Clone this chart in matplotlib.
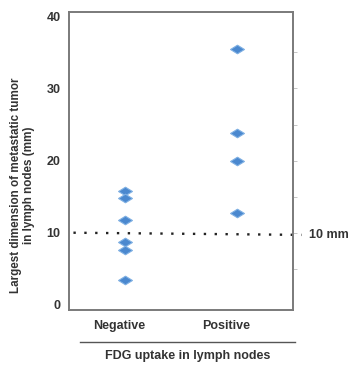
import matplotlib
matplotlib.use("Agg")
import matplotlib.pyplot as plt
from matplotlib.path import Path

plt.rcParams["font.family"] = ["Liberation Sans", "DejaVu Sans"]

# ── Data ──
groups = ["Negative", "Positive"]
negative_mm = [15.8, 14.8, 11.7, 8.7, 7.6, 3.5]
positive_mm = [35.5, 23.8, 19.9, 12.8]
cutoff_mm = 10
y_ticks = [0, 10, 20, 30, 40]
right_ticks = [5, 10, 15, 20, 25, 30, 35]

BLUE = "#4a88cf"
EDGE = "#7fb0e3"
TEXT = "#333333"
SPINE = "#7a7a7a"

# wide diamond marker
diamond = Path([(-1, 0), (0, 0.62), (1, 0), (0, -0.62), (-1, 0)],
               [Path.MOVETO, Path.LINETO, Path.LINETO, Path.LINETO, Path.CLOSEPOLY])

fig = plt.figure(figsize=(3.5, 3.65), dpi=100)
fig.patch.set_facecolor("white")
ax = fig.add_axes([0.197, 0.151, 0.64, 0.816])

for i, vals in enumerate([negative_mm, positive_mm]):
    ax.scatter([i] * len(vals), vals, marker=diamond, s=100, c=BLUE,
               edgecolors=EDGE, linewidths=0.8, zorder=3)

ax.set_xlim(-0.5, 1.5)
ax.set_ylim(-0.7, 40.6)
ax.set_xticks([-0.05, 0.9])
ax.set_xticklabels(groups, fontsize=9, fontweight="bold", color=TEXT)
ax.set_yticks(y_ticks)
ax.set_yticklabels([str(t) for t in y_ticks], fontsize=9, fontweight="bold", color=TEXT)
ax.tick_params(axis="both", length=0, pad=6)
ax.tick_params(axis="x", pad=7)

# right-side ticks without labels
ax2 = ax.twinx()
ax2.set_ylim(ax.get_ylim())
ax2.set_yticks(right_ticks)
ax2.set_yticklabels([])
ax2.tick_params(axis="y", length=3, color="#bbbbbb", width=0.6)

for a in (ax, ax2):
    for sp in a.spines.values():
        sp.set_color(SPINE)
        sp.set_linewidth(1.2)

# cutoff dotted line, extending past the axes
ax.plot([-0.46, 1.58], [cutoff_mm, cutoff_mm - 0.3], linestyle=(0, (1, 3.6)),
        color="#222222", linewidth=1.7, clip_on=False, zorder=2)
ax.text(1.64, cutoff_mm - 0.3, "10 mm", fontsize=9, fontweight="bold",
        color=TEXT, va="center", ha="left", clip_on=False)

ax.set_ylabel("Largest dimension of metastatic tumor\nin lymph nodes (mm)",
              fontsize=8.4, fontweight="bold", color=TEXT, linespacing=1.15)
ax.yaxis.set_label_coords(-0.15, 0.42)

# group bracket line and axis title below
fig.add_artist(plt.Line2D([80 / 350, 295 / 350], [1 - 342 / 365, 1 - 342 / 365],
                          color="#555555", linewidth=1))
fig.text(188 / 350, 1 - 356 / 365, "FDG uptake in lymph nodes", fontsize=9,
         fontweight="bold", color=TEXT, ha="center", va="center")

fig.savefig("out.png", dpi=100, facecolor="white")
